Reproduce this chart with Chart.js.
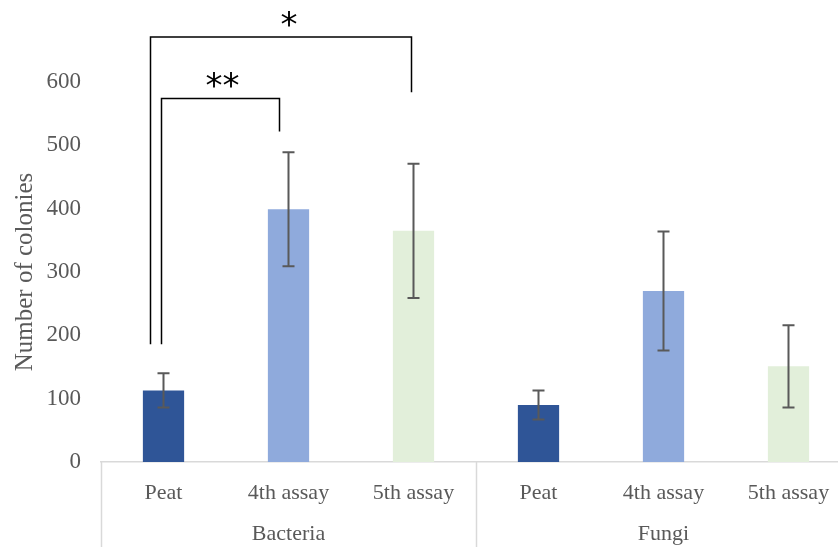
<!DOCTYPE html>
<html>
<head>
<meta charset="utf-8">
<script src="https://cdn.jsdelivr.net/npm/chart.js@4/dist/chart.umd.min.js"></script>
<style>
  html, body { margin: 0; padding: 0; background: #fff; overflow: hidden; width: 838px; height: 547px; }
  #wrap { width: 851px; height: 547px; }
</style>
</head>
<body>
<div id="wrap"><canvas id="barChart"></canvas></div>
<script>
const groups = ["Bacteria", "Fungi"];
const samples = ["Peat", "4th assay", "5th assay"];
const colonies = [113, 399, 365, 90, 270, 151];
const errors = [27, 90, 106, 23, 94, 65];
const yTicks = [0, 100, 200, 300, 400, 500, 600];

const labels = [];
groups.forEach(g => samples.forEach(s => labels.push(s)));
const colors = ["#2F5597", "#8FAADC", "#E2EFDA"];

// significance brackets (bar indices, y values of bracket ends)
const brackets = [
    { from: 0, to: 1, top: 574, leftEnd: 186, rightEnd: 522, dxL: -2, dxR: -9, text: "**" },
    { from: 0, to: 2, top: 671, leftEnd: 186, rightEnd: 584, dxL: -13, dxR: -2, text: "*" }
];

const serif = "'Liberation Serif', 'Times New Roman', serif";

const extras = {
    id: "extras",
    afterDatasetsDraw(chart) {
        const ctx = chart.ctx;
        const x = chart.scales.x, y = chart.scales.y;
        const area = chart.chartArea;
        ctx.save();

        // error bars
        ctx.strokeStyle = "#595959";
        ctx.lineWidth = 2;
        colonies.forEach((v, i) => {
            const cx = x.getPixelForValue(i);
            const hi = y.getPixelForValue(v + errors[i]);
            const lo = y.getPixelForValue(v - errors[i]);
            ctx.beginPath();
            ctx.moveTo(cx, hi); ctx.lineTo(cx, lo);
            ctx.moveTo(cx - 6, hi); ctx.lineTo(cx + 6, hi);
            ctx.moveTo(cx - 6, lo); ctx.lineTo(cx + 6, lo);
            ctx.stroke();
        });

        // group separators and labels
        ctx.strokeStyle = "#d9d9d9";
        ctx.lineWidth = 1.5;
        const n = samples.length;
        const step = x.getPixelForValue(1) - x.getPixelForValue(0);
        for (let g = 0; g <= groups.length; g++) {
            let px = x.getPixelForValue(g * n) - step / 2;
            px = Math.round(px) + 0.5;
            ctx.beginPath();
            ctx.moveTo(px, area.bottom);
            ctx.lineTo(px, chart.height);
            ctx.stroke();
        }
        ctx.fillStyle = "#595959";
        ctx.font = "22px " + serif;
        ctx.textAlign = "center";
        ctx.textBaseline = "middle";
        groups.forEach((g, gi) => {
            const cx = x.getPixelForValue(gi * n + (n - 1) / 2);
            ctx.fillText(g, cx, area.bottom + 72);
        });

        // significance brackets
        ctx.strokeStyle = "#000";
        ctx.lineWidth = 1.5;
        ctx.fillStyle = "#000";
        ctx.font = "34px 'DejaVu Sans', sans-serif";
        brackets.forEach(b => {
            const xl = x.getPixelForValue(b.from) + b.dxL;
            const xr = x.getPixelForValue(b.to) + b.dxR;
            const yt = y.getPixelForValue(b.top);
            ctx.beginPath();
            ctx.moveTo(xl, y.getPixelForValue(b.leftEnd));
            ctx.lineTo(xl, yt);
            ctx.lineTo(xr, yt);
            ctx.lineTo(xr, y.getPixelForValue(b.rightEnd));
            ctx.stroke();
            ctx.fillText(b.text, (xl + xr) / 2 + (b.text.length == 1 ? 8 : 2), yt - 10);
        });
        ctx.restore();
    }
};

new Chart(document.getElementById("barChart"), {
    type: "bar",
    data: {
        labels: labels,
        datasets: [{
            data: colonies,
            backgroundColor: labels.map((l, i) => colors[i % 3]),
            barPercentage: 0.33,
            categoryPercentage: 1
        }]
    },
    options: {
        responsive: true,
        maintainAspectRatio: false,
        animation: false,
        layout: { padding: { top: 82, right: 0, left: 0, bottom: 0 } },
        plugins: { legend: { display: false }, tooltip: { enabled: false } },
        scales: {
            x: {
                grid: { display: false },
                border: { color: "#d9d9d9", width: 1.5 },
                ticks: { color: "#595959", font: { family: serif, size: 22 }, padding: 10, maxRotation: 0, autoSkip: false },
                afterFit(s) { s.height = 85; }
            },
            y: {
                min: 0, max: 600,
                afterBuildTicks(s) { s.ticks = yTicks.map(v => ({ value: v })); },
                grid: { display: false },
                border: { display: false },
                ticks: { color: "#595959", font: { family: serif, size: 23 }, padding: 12 },
                title: { display: true, text: "Number of colonies", color: "#595959", font: { family: serif, size: 25 }, padding: { top: 10, bottom: 0 } },
                afterFit(s) { s.width = 101; }
            }
        }
    },
    plugins: [extras]
});
</script>
</body>
</html>
